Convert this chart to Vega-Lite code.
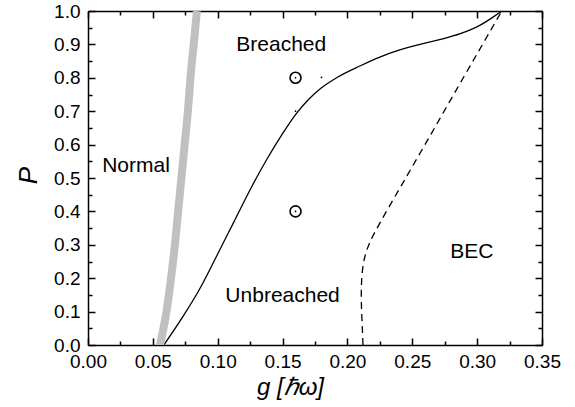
{
  "$schema": "https://vega.github.io/schema/vega-lite/v6.json",
  "width": 454,
  "height": 334,
  "autosize": "none",
  "padding": {"left": 88, "top": 11, "right": 33, "bottom": 62},
  "background": "white",
  "config": {
    "view": {"stroke": null},
    "font": "Liberation Sans",
    "axis": {
      "domainColor": "black",
      "domainWidth": 1.5,
      "tickColor": "black",
      "tickWidth": 1.5,
      "grid": false,
      "labelColor": "black",
      "labelFont": "Liberation Sans",
      "labelFontSize": 19,
      "titleColor": "black",
      "titleFont": "Liberation Sans",
      "titleFontWeight": "normal",
      "titleFontStyle": "italic",
      "zindex": 1
    }
  },
  "resolve": {"axis": {"x": "independent", "y": "independent"}},
  "layer": [
    {
      "data": {"values": [
        {"g": 0.0585, "P": 0.0}, {"g": 0.073, "P": 0.084}, {"g": 0.0864, "P": 0.170},
        {"g": 0.0994, "P": 0.268}, {"g": 0.112, "P": 0.365}, {"g": 0.125, "P": 0.465}, {"g": 0.138, "P": 0.557},
        {"g": 0.150, "P": 0.633}, {"g": 0.160, "P": 0.690}, {"g": 0.170, "P": 0.735}, {"g": 0.180, "P": 0.770},
        {"g": 0.192, "P": 0.801}, {"g": 0.21, "P": 0.836}, {"g": 0.225, "P": 0.862}, {"g": 0.241, "P": 0.884},
        {"g": 0.256, "P": 0.900}, {"g": 0.271, "P": 0.914}, {"g": 0.287, "P": 0.932}, {"g": 0.302, "P": 0.957},
        {"g": 0.312, "P": 0.981}, {"g": 0.319, "P": 1.0}
      ]},
      "mark": {"type": "line", "color": "black", "strokeWidth": 1.3, "interpolate": "monotone", "clip": true},
      "encoding": {
        "x": {"field": "g", "type": "quantitative", "scale": {"domain": [0, 0.35], "nice": false, "zero": false},
          "axis": {"orient": "bottom", "title": "g [ℏω]", "titleFontSize": 24, "values": [0,0.025,0.05,0.075,0.1,0.125,0.15,0.175,0.2,0.225,0.25,0.275,0.3,0.325,0.35],
            "labelExpr": "abs(datum.value/0.05 - round(datum.value/0.05)) < 0.000001 ? format(datum.value, '.2f') : ''",
            "tickSize": {"condition": {"test": "abs(datum.value/0.05 - round(datum.value/0.05)) < 0.000001", "value": -7}, "value": -4},
            "labelPadding": 14, "labelFlush": false, "labelOverlap": false,
            "titleX": 202, "titleY": 49, "titleAlign": "center", "titleBaseline": "alphabetic", "titleAnchor": null}},
        "y": {"field": "P", "type": "quantitative", "scale": {"domain": [0, 1], "nice": false, "zero": false},
          "axis": {"orient": "left", "title": "P", "titleFontSize": 26, "values": [0,0.05,0.1,0.15,0.2,0.25,0.3,0.35,0.4,0.45,0.5,0.55,0.6,0.65,0.7,0.75,0.8,0.85,0.9,0.95,1.0],
            "labelExpr": "abs(datum.value/0.1 - round(datum.value/0.1)) < 0.000001 ? format(datum.value, '.1f') : ''",
            "tickSize": {"condition": {"test": "abs(datum.value/0.1 - round(datum.value/0.1)) < 0.000001", "value": -7}, "value": -4},
            "labelPadding": 15, "labelFlush": false, "labelOverlap": false,
            "titleX": -52, "titleY": 164, "titleAngle": -90, "titleAlign": "center", "titleBaseline": "alphabetic", "titleAnchor": null}}
      }
    },
    {
      "data": {"values": [
        {"g": 0.212, "P": 0.0}, {"g": 0.2115, "P": 0.05}, {"g": 0.2108, "P": 0.12}, {"g": 0.2108, "P": 0.18},
        {"g": 0.2118, "P": 0.23}, {"g": 0.2135, "P": 0.265}, {"g": 0.217, "P": 0.305}, {"g": 0.225, "P": 0.365},
        {"g": 0.243, "P": 0.487}, {"g": 0.261, "P": 0.608}, {"g": 0.28, "P": 0.737}, {"g": 0.30, "P": 0.872},
        {"g": 0.319, "P": 1.0}
      ]},
      "mark": {"type": "line", "color": "black", "strokeWidth": 1.3, "strokeDash": [7, 5], "interpolate": "catmull-rom", "clip": true},
      "encoding": {
        "x": {"field": "g", "type": "quantitative",
          "axis": {"orient": "top", "title": null, "labels": false, "values": [0,0.025,0.05,0.075,0.1,0.125,0.15,0.175,0.2,0.225,0.25,0.275,0.3,0.325,0.35],
            "tickSize": {"condition": {"test": "abs(datum.value/0.05 - round(datum.value/0.05)) < 0.000001", "value": -7}, "value": -4}}},
        "y": {"field": "P", "type": "quantitative",
          "axis": {"orient": "right", "title": null, "labels": false, "values": [0,0.05,0.1,0.15,0.2,0.25,0.3,0.35,0.4,0.45,0.5,0.55,0.6,0.65,0.7,0.75,0.8,0.85,0.9,0.95,1.0],
            "tickSize": {"condition": {"test": "abs(datum.value/0.1 - round(datum.value/0.1)) < 0.000001", "value": -7}, "value": -4}}},
        "order": {"field": "P", "type": "quantitative"}
      }
    },
    {
      "data": {"values": [
        {"g": 0.0555, "P": 0.0}, {"g": 0.0605, "P": 0.1}, {"g": 0.064, "P": 0.2}, {"g": 0.067, "P": 0.3},
        {"g": 0.0695, "P": 0.4}, {"g": 0.072, "P": 0.5}, {"g": 0.0745, "P": 0.6}, {"g": 0.077, "P": 0.7},
        {"g": 0.079, "P": 0.8}, {"g": 0.0815, "P": 0.9}, {"g": 0.084, "P": 1.0}
      ]},
      "mark": {"type": "line", "color": "#c0c0c0", "strokeWidth": 8, "interpolate": "monotone", "clip": true, "strokeCap": "butt"},
      "encoding": {
        "x": {"field": "g", "type": "quantitative", "axis": null},
        "y": {"field": "P", "type": "quantitative", "axis": null}
      }
    },
    {
      "data": {"values": [{"g": 0.16, "P": 0.8}, {"g": 0.16, "P": 0.4}]},
      "mark": {"type": "point", "shape": "circle", "filled": false, "stroke": "black", "strokeWidth": 1.6, "size": 120, "opacity": 1},
      "encoding": {
        "x": {"field": "g", "type": "quantitative", "axis": null},
        "y": {"field": "P", "type": "quantitative", "axis": null}
      }
    },
    {
      "data": {"values": [{"g": 0.16, "P": 0.8}, {"g": 0.16, "P": 0.4}, {"g": 0.18, "P": 0.801}, {"g": 0.16, "P": 0.70}]},
      "mark": {"type": "point", "shape": "circle", "filled": true, "color": "black", "size": 3, "opacity": 1},
      "encoding": {
        "x": {"field": "g", "type": "quantitative", "axis": null},
        "y": {"field": "P", "type": "quantitative", "axis": null}
      }
    },
    {
      "data": {"values": [
        {"g": 0.149, "P": 0.898, "label": "Breached"},
        {"g": 0.037, "P": 0.535, "label": "Normal"},
        {"g": 0.150, "P": 0.147, "label": "Unbreached"},
        {"g": 0.296, "P": 0.278, "label": "BEC"}
      ]},
      "mark": {"type": "text", "font": "Liberation Sans", "fontSize": 21, "color": "black", "align": "center", "baseline": "middle"},
      "encoding": {
        "x": {"field": "g", "type": "quantitative", "axis": null},
        "y": {"field": "P", "type": "quantitative", "axis": null},
        "text": {"field": "label", "type": "nominal"}
      }
    }
  ]
}
